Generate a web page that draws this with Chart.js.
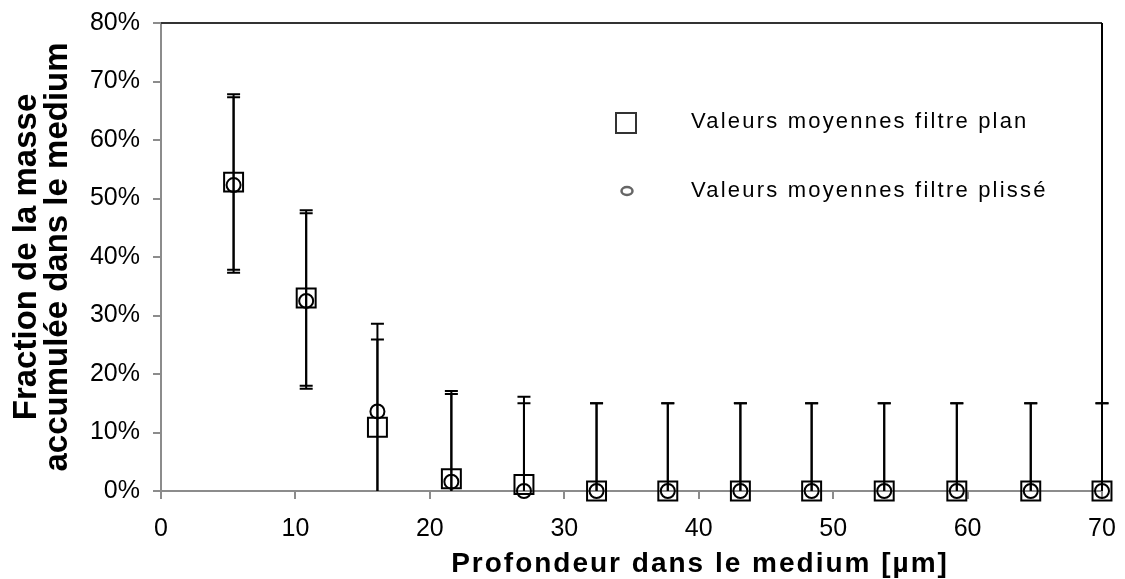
<!DOCTYPE html>
<html>
<head>
<meta charset="utf-8">
<script src="https://cdn.jsdelivr.net/npm/chart.js@4"></script>
<style>
  body { margin: 0; background: #fff; }
  #chart { display: block; }
</style>
</head>
<body>
<canvas id="chart" width="1125" height="579"></canvas>
<script>
// depth in the medium (µm)
const depth = [5.4, 10.8, 16.1, 21.6, 27.0, 32.4, 37.7, 43.1, 48.4, 53.8, 59.2, 64.7, 70.0];
// mean mass fraction (%)
const planValues = [52.8, 33.0, 10.9, 2.1, 1.1, 0, 0, 0, 0, 0, 0, 0, 0];
const plisseValues = [52.3, 32.5, 13.6, 1.6, 0, 0, 0, 0, 0, 0, 0, 0, 0];
// error bar half-widths (%)
const planErrors = [15, 15, 15, 15, 15, 15, 15, 15, 15, 15, 15, 15, 15];
const plisseErrors = [15, 15, 15, 15, 15, 15, 15, 15, 15, 15, 15, 15, 15];

const legendLabels = ['Valeurs moyennes filtre plan', 'Valeurs moyennes filtre plissé'];
const xTitle = 'Profondeur dans le medium [µm]';
const yTitle = ['Fraction de la masse', 'accumulée dans le medium'];

const fontFamily = "'Liberation Sans', Arial, sans-serif";
Chart.defaults.font.family = fontFamily;
Chart.defaults.color = '#000';

const axisGray = '#8c8c8c';

// error bars, drawn under the markers, clipped at the x axis
const errorBars = {
    id: 'errorBars',
    beforeDatasetsDraw(chart) {
        const { ctx, chartArea, scales: { x, y } } = chart;
        ctx.save();
        ctx.beginPath();
        ctx.rect(chartArea.left - 20, chartArea.top - 20, chartArea.right - chartArea.left + 40, chartArea.bottom - chartArea.top + 20);
        ctx.clip();

        // plot frame top and right
        ctx.strokeStyle = '#333';
        ctx.lineWidth = 2;
        ctx.beginPath();
        ctx.moveTo(chartArea.left, chartArea.top);
        ctx.lineTo(chartArea.right, chartArea.top);
        ctx.stroke();
        ctx.strokeStyle = '#000';
        ctx.beginPath();
        ctx.moveTo(chartArea.right, chartArea.top);
        ctx.lineTo(chartArea.right, chartArea.bottom);
        ctx.stroke();

        ctx.strokeStyle = '#000';
        ctx.lineWidth = 2;
        [[planValues, planErrors], [plisseValues, plisseErrors]].forEach(([vals, errs]) => {
            vals.forEach((v, i) => {
                const px = x.getPixelForValue(depth[i]);
                const top = y.getPixelForValue(v + errs[i]);
                const bot = y.getPixelForValue(v - errs[i]);
                ctx.beginPath();
                ctx.moveTo(px, top);
                ctx.lineTo(px, bot);
                ctx.moveTo(px - 6.5, top);
                ctx.lineTo(px + 6.5, top);
                ctx.moveTo(px - 6.5, bot);
                ctx.lineTo(px + 6.5, bot);
                ctx.stroke();
            });
        });
        ctx.restore();
    }
};

// legend inside the plot area + x axis title (offset to the right like the original)
const annotations = {
    id: 'annotations',
    afterDraw(chart) {
        const { ctx } = chart;
        ctx.save();
        ctx.strokeStyle = '#333';
        ctx.lineWidth = 2;
        ctx.strokeRect(616, 113, 20, 20);

        ctx.strokeStyle = '#666';
        ctx.lineWidth = 2.5;
        ctx.beginPath();
        ctx.ellipse(627, 191, 5.5, 4, 0, 0, Math.PI * 2);
        ctx.stroke();

        ctx.fillStyle = '#000';
        ctx.font = '22px ' + fontFamily;
        ctx.letterSpacing = '2.2px';
        ctx.textBaseline = 'middle';
        ctx.fillText(legendLabels[0], 691, 122);
        ctx.fillText(legendLabels[1], 691, 191);

        ctx.font = 'bold 28px ' + fontFamily;
        ctx.letterSpacing = '2px';
        ctx.textBaseline = 'alphabetic';
        ctx.textAlign = 'center';
        ctx.fillText(xTitle, 700, 572);
        ctx.restore();
    }
};

new Chart(document.getElementById('chart'), {
    type: 'scatter',
    data: {
        datasets: [{
            label: legendLabels[0],
            data: depth.map((d, i) => ({ x: d, y: planValues[i] })),
            pointStyle: 'rect',
            pointRadius: 13.4,
            pointBorderWidth: 2,
            borderColor: '#000',
            backgroundColor: 'rgba(0,0,0,0)',
            clip: false
        }, {
            label: legendLabels[1],
            data: depth.map((d, i) => ({ x: d, y: plisseValues[i] })),
            pointStyle: 'circle',
            pointRadius: 7,
            pointBorderWidth: 2,
            borderColor: '#000',
            backgroundColor: 'rgba(0,0,0,0)',
            clip: false
        }]
    },
    options: {
        responsive: false,
        animation: false,
        layout: { padding: { top: 23, right: 23, left: 0, bottom: 0 } },
        plugins: {
            legend: { display: false },
            tooltip: { enabled: false }
        },
        scales: {
            x: {
                type: 'linear',
                min: 0,
                max: 70,
                ticks: { stepSize: 10, padding: 15, font: { size: 25 } },
                grid: { drawOnChartArea: false, color: axisGray, lineWidth: 2, tickLength: 8 },
                border: { color: axisGray, width: 2 },
                afterFit(scale) {
                    scale.height = 88;
                    scale.paddingLeft = 0;
                    scale.paddingRight = 0;
                }
            },
            y: {
                min: 0,
                max: 80,
                ticks: { stepSize: 10, padding: 13, font: { size: 25 }, callback: v => v + '%' },
                grid: { drawOnChartArea: false, color: axisGray, lineWidth: 2, tickLength: 8 },
                border: { color: axisGray, width: 2 },
                title: {
                    display: true,
                    text: yTitle,
                    font: { size: 33, weight: 'bold', lineHeight: 0.94 },
                    padding: { top: 11.5, bottom: 0 }
                },
                afterFit(scale) {
                    scale.width = 161;
                    scale.paddingTop = 0;
                    scale.paddingBottom = 0;
                }
            }
        }
    },
    plugins: [errorBars, annotations]
});
</script>
</body>
</html>
